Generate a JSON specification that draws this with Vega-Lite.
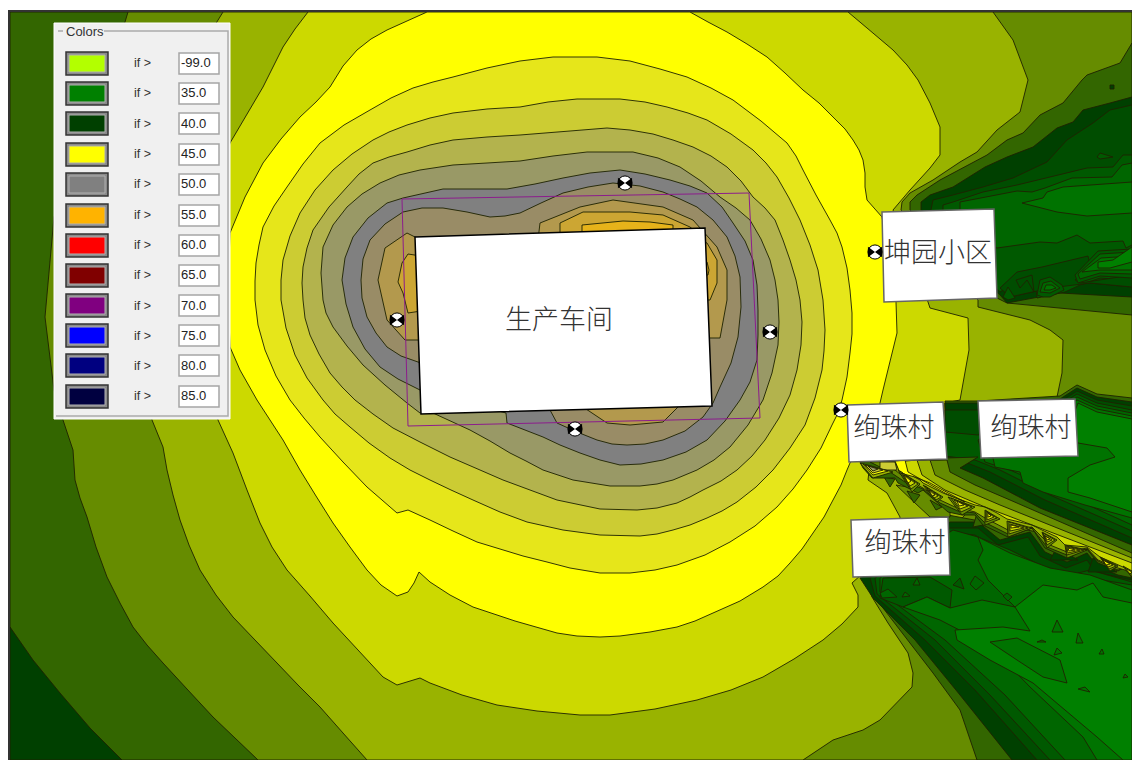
{"$schema":"https://vega.github.io/schema/vega-lite/v6.json","width":1132,"height":760,"padding":0,"autosize":{"type":"fit","contains":"padding"},"background":"#ffffff","config":{"view":{"stroke":null}},"projection":{"type":"identity","scale":1,"translate":[0,0]},
"datasets":{
"map":[
{"type":"Feature","properties":{"k":"41"},"geometry":{"type":"Polygon","coordinates":[[[10,12],[1132,12],[1132,760],[10,760],[10,12]]]}},
{"type":"Feature","properties":{"k":"40"},"geometry":{"type":"Polygon","coordinates":[[[10,627],[33,660],[60,693],[90,728],[122,760],[10,760],[10,627]]]}},
{"type":"Feature","properties":{"k":"42"},"geometry":{"type":"Polygon","coordinates":[[[128,12],[1132,12],[1132,760],[258,760],[235,738],[213,717],[187,689],[163,663],[147,645],[133,627],[120,603],[107,577],[96,547],[87,517],[80,498],[75,480],[73,450],[63,420],[54,390],[45,317],[54,217],[125,22],[128,12]]]}},
{"type":"Feature","properties":{"k":"43"},"geometry":{"type":"Polygon","coordinates":[[[223,12],[993,12],[1013,40],[1028,80],[1020,112],[997,130],[977,152],[960,162],[933,180],[910,193],[902,202],[901,210],[978,300],[978,307],[1030,320],[1050,330],[1063,340],[1062,373],[1057,397],[1040,440],[960,520],[866,578],[872,597],[888,623],[908,653],[913,673],[912,687],[880,720],[863,730],[833,740],[803,760],[367,760],[343,733],[320,707],[298,685],[277,663],[255,640],[233,617],[216,595],[200,570],[189,545],[180,520],[173,495],[167,470],[163,447],[152,420],[140,320],[215,25],[223,12]]]}},
{"type":"Feature","properties":{"k":"44"},"geometry":{"type":"Polygon","coordinates":[[[308,12],[848,12],[867,28],[893,50],[907,65],[918,80],[930,103],[940,127],[940,155],[930,168],[910,190],[893,210],[928,302],[930,308],[968,318],[969,350],[960,400],[945,403],[945,460],[870,462],[868,480],[887,493],[900,517],[900,540],[852,583],[858,595],[858,607],[842,624],[823,640],[794,659],[763,677],[731,690],[697,700],[655,709],[610,715],[580,715],[537,711],[497,705],[462,695],[430,683],[420,678],[397,685],[383,677],[358,650],[333,623],[310,596],[287,570],[272,547],[260,523],[247,490],[233,453],[218,420],[190,280],[230,143],[263,87],[273,67],[283,47],[295,29],[308,12]]]}},
{"type":"Feature","properties":{"k":"41"},"geometry":{"type":"Polygon","coordinates":[[[910,210],[910,202],[917,195],[940,180],[987,155],[1007,140],[1023,133],[1040,115],[1063,103],[1082,80],[1087,75],[1120,63],[1132,43],[1132,315],[1007,303],[997,298],[950,250],[910,210]]]}},
{"type":"Feature","properties":{"k":"40"},"geometry":{"type":"Polygon","coordinates":[[[921,210],[921,202],[930,195],[953,187],[985,167],[1007,157],[1033,147],[1057,128],[1073,122],[1083,110],[1110,103],[1132,97],[1132,297],[1060,293],[1007,303],[1000,295],[950,250],[921,210]]]}},
{"type":"Feature","properties":{"k":"39"},"geometry":{"type":"Polygon","coordinates":[[[931,210],[933,200],[953,195],[983,187],[1013,178],[1047,162],[1067,140],[1093,123],[1110,110],[1132,105],[1132,287],[1090,283],[1050,288],[1010,297],[960,250],[931,210]]]}},
{"type":"Feature","properties":{"k":"38"},"geometry":{"type":"Polygon","coordinates":[[[943,210],[943,205],[953,202],[983,192],[1017,185],[1050,177],[1087,168],[1113,167],[1123,155],[1132,155],[1132,280],[1100,278],[1080,285],[1065,292],[1037,298],[1035,280],[1020,278],[1000,292],[960,250],[943,210]]]}},
{"type":"Feature","properties":{"k":"37"},"geometry":{"type":"Polygon","coordinates":[[[960,210],[960,202],[1017,191],[1032,192],[1045,188],[1072,178],[1112,177],[1122,165],[1132,163],[1132,245],[1126,248],[1123,241],[1090,243],[1077,235],[1057,243],[1040,242],[997,248],[975,240],[960,210]]]}},
{"type":"Feature","properties":{"k":"36"},"geometry":{"type":"Polygon","coordinates":[[[1132,182],[1063,187],[1047,192],[1043,198],[1022,203],[1057,212],[1087,216],[1132,213],[1132,182]]]}},
{"type":"Feature","properties":{"k":"38"},"geometry":{"type":"Polygon","coordinates":[[[1097,157],[1100,153],[1113,157],[1100,159],[1097,157]]]}},
{"type":"Feature","properties":{"k":"40"},"geometry":{"type":"Polygon","coordinates":[[[1110,85],[1114,85],[1114,89],[1110,89],[1110,85]]]}},
{"type":"Feature","properties":{"k":"39"},"geometry":{"type":"Polygon","coordinates":[[[1000,288],[1017,272],[1042,267],[1088,256],[1090,265],[1075,280],[1080,283],[1132,275],[1132,287],[1090,283],[1050,288],[1010,297],[1000,288]]]}},
{"type":"Feature","properties":{"k":"38"},"geometry":{"type":"Polygon","coordinates":[[[1075,275],[1098,251],[1132,249],[1132,278],[1100,276],[1078,283],[1075,275]]]}},
{"type":"Feature","properties":{"k":"37"},"geometry":{"type":"Polygon","coordinates":[[[1078,274],[1100,254],[1132,252],[1132,274],[1100,273],[1080,279],[1078,274]]]}},
{"type":"Feature","properties":{"k":"36"},"geometry":{"type":"Polygon","coordinates":[[[1082,272],[1101,258],[1132,256],[1132,270],[1100,270],[1082,272]]]}},
{"type":"Feature","properties":{"k":"35"},"geometry":{"type":"Polygon","coordinates":[[[1098,262],[1113,260],[1132,247],[1132,262],[1110,268],[1098,268],[1098,262]]]}},
{"type":"Feature","properties":{"k":"38"},"geometry":{"type":"Polygon","coordinates":[[[1037,295],[1040,280],[1050,277],[1062,285],[1064,290],[1050,297],[1043,297],[1037,295]]]}},
{"type":"Feature","properties":{"k":"37"},"geometry":{"type":"Polygon","coordinates":[[[1040,292],[1043,283],[1051,281],[1060,288],[1050,293],[1040,292]]]}},
{"type":"Feature","properties":{"k":"36"},"geometry":{"type":"Polygon","coordinates":[[[1044,290],[1046,285],[1052,285],[1056,288],[1050,290],[1044,290]]]}},
{"type":"Feature","properties":{"k":"38"},"geometry":{"type":"Polygon","coordinates":[[[1003,297],[1008,287],[1015,298],[1008,300],[1003,297]]]}},
{"type":"Feature","properties":{"k":"39"},"geometry":{"type":"Polygon","coordinates":[[[1016,280],[1032,275],[1034,292],[1027,280],[1020,288],[1016,280]]]}},
{"type":"Feature","properties":{"k":"41"},"geometry":{"type":"Polygon","coordinates":[[[945,401],[978,401],[1060,396],[1077,385],[1097,394],[1132,398],[1132,553],[950,472],[947,460],[945,401]]]}},
{"type":"Feature","properties":{"k":"40"},"geometry":{"type":"Polygon","coordinates":[[[945,403],[978,403],[1060,399],[1077,388],[1097,397],[1132,402],[1132,545],[1040,508],[983,478],[960,468],[978,457],[947,458],[945,403]]]}},
{"type":"Feature","properties":{"k":"39"},"geometry":{"type":"Polygon","coordinates":[[[945,410],[978,410],[1060,402],[1077,391],[1097,400],[1132,406],[1132,538],[1045,500],[990,472],[965,462],[945,460],[945,410]]]}},
{"type":"Feature","properties":{"k":"38"},"geometry":{"type":"Polygon","coordinates":[[[945,432],[978,435],[1060,405],[1077,394],[1097,403],[1132,410],[1132,531],[1050,495],[1000,470],[975,460],[945,456],[945,432]]]}},
{"type":"Feature","properties":{"k":"37"},"geometry":{"type":"Polygon","coordinates":[[[978,440],[1060,408],[1077,397],[1097,406],[1132,413],[1132,525],[1055,490],[1010,470],[985,462],[978,440]]]}},
{"type":"Feature","properties":{"k":"36"},"geometry":{"type":"Polygon","coordinates":[[[985,440],[1060,411],[1077,400],[1097,409],[1132,416],[1132,518],[1085,505],[1043,492],[1023,483],[1020,472],[995,467],[993,458],[985,440]]]}},
{"type":"Feature","properties":{"k":"35"},"geometry":{"type":"Polygon","coordinates":[[[1070,425],[1078,403],[1097,412],[1132,419],[1132,512],[1090,498],[1068,492],[1068,478],[1090,465],[1115,457],[1107,448],[1078,443],[1070,425]]]}},
{"type":"Feature","properties":{"k":"41"},"geometry":{"type":"Polygon","coordinates":[[[948,515],[1132,550],[1132,760],[977,760],[960,710],[933,673],[883,608],[872,590],[866,578],[895,570],[930,540],[948,515]]]}},
{"type":"Feature","properties":{"k":"40"},"geometry":{"type":"Polygon","coordinates":[[[950,522],[978,522],[1000,540],[1030,532],[1045,552],[1067,562],[1087,553],[1098,567],[1118,575],[1132,578],[1132,760],[1012,760],[960,695],[915,640],[873,598],[860,578],[950,522]]]}},
{"type":"Feature","properties":{"k":"39"},"geometry":{"type":"Polygon","coordinates":[[[950,528],[978,528],[998,545],[1028,537],[1040,556],[1066,568],[1087,560],[1095,572],[1132,580],[1132,760],[1037,760],[975,690],[925,640],[875,596],[870,578],[950,528]]]}},
{"type":"Feature","properties":{"k":"38"},"geometry":{"type":"Polygon","coordinates":[[[952,533],[975,535],[1000,552],[1040,565],[1070,575],[1090,570],[1132,582],[1132,760],[1050,760],[990,695],[935,640],[877,594],[875,578],[952,533]]]}},
{"type":"Feature","properties":{"k":"37"},"geometry":{"type":"Polygon","coordinates":[[[953,530],[978,537],[1010,550],[1050,570],[1090,578],[1132,585],[1132,760],[1065,760],[1005,695],[945,640],[880,592],[880,578],[953,530]]]}},
{"type":"Feature","properties":{"k":"38"},"geometry":{"type":"Polygon","coordinates":[[[883,578],[930,577],[952,590],[950,608],[927,597],[903,607],[880,598],[883,578]]]}},
{"type":"Feature","properties":{"k":"36"},"geometry":{"type":"Polygon","coordinates":[[[978,537],[1010,553],[1050,568],[1090,575],[1132,590],[1132,760],[1097,760],[1083,737],[1030,687],[997,653],[973,637],[940,620],[903,607],[927,597],[950,608],[982,600],[1015,607],[988,580],[978,560],[983,550],[978,537]]]}},
{"type":"Feature","properties":{"k":"35"},"geometry":{"type":"Polygon","coordinates":[[[1015,607],[1043,585],[1077,590],[1093,583],[1103,597],[1132,603],[1132,760],[1123,760],[1097,737],[1033,683],[990,660],[957,640],[955,630],[1003,627],[1030,631],[1015,607]]]}},
{"type":"Feature","properties":{"k":"36"},"geometry":{"type":"Polygon","coordinates":[[[990,642],[1017,638],[1060,660],[1067,683],[1043,677],[1017,660],[990,642]]]}},
{"type":"Feature","properties":{"k":"36"},"geometry":{"type":"Polygon","coordinates":[[[1057,620],[1063,632],[1052,632],[1057,620]]]}},
{"type":"Feature","properties":{"k":"36"},"geometry":{"type":"Polygon","coordinates":[[[1078,633],[1083,643],[1076,643],[1078,633]]]}},
{"type":"Feature","properties":{"k":"36"},"geometry":{"type":"Polygon","coordinates":[[[1057,648],[1062,653],[1054,655],[1057,648]]]}},
{"type":"Feature","properties":{"k":"36"},"geometry":{"type":"Polygon","coordinates":[[[1102,649],[1104,654],[1099,654],[1102,649]]]}},
{"type":"Feature","properties":{"k":"36"},"geometry":{"type":"Polygon","coordinates":[[[1085,687],[1090,692],[1078,689],[1085,687]]]}},
{"type":"Feature","properties":{"k":"36"},"geometry":{"type":"Polygon","coordinates":[[[1125,674],[1128,677],[1123,678],[1125,674]]]}},
{"type":"Feature","properties":{"k":"36"},"geometry":{"type":"Polygon","coordinates":[[[1042,640],[1046,642],[1037,642],[1042,640]]]}},
{"type":"Feature","properties":{"k":"37"},"geometry":{"type":"Polygon","coordinates":[[[917,578],[920,585],[913,585],[917,578]]]}},
{"type":"Feature","properties":{"k":"38"},"geometry":{"type":"Polygon","coordinates":[[[960,578],[964,589],[953,585],[960,578]]]}},
{"type":"Feature","properties":{"k":"37"},"geometry":{"type":"Polygon","coordinates":[[[975,576],[984,583],[976,590],[970,584],[975,576]]]}},
{"type":"Feature","properties":{"k":"37"},"geometry":{"type":"Polygon","coordinates":[[[1007,593],[1012,597],[1008,601],[1003,596],[1007,593]]]}},
{"type":"Feature","properties":{"k":"37"},"geometry":{"type":"Polygon","coordinates":[[[888,589],[897,597],[882,598],[880,593],[888,589]]]}},
{"type":"Feature","properties":{"k":"37"},"geometry":{"type":"Polygon","coordinates":[[[905,592],[910,596],[902,597],[905,592]]]}},
{"type":"Feature","properties":{"k":"42"},"geometry":{"type":"Polygon","coordinates":[[[896,485],[915,503],[930,517],[950,517],[950,505],[925,490],[896,485]]]}},
{"type":"Feature","properties":{"k":"41"},"geometry":{"type":"Polygon","coordinates":[[[973,527],[977,513],[993,523],[973,527]]]}},
{"type":"Feature","properties":{"k":"40"},"geometry":{"type":"Polygon","coordinates":[[[1050,560],[1057,547],[1078,560],[1050,560]]]}},
{"type":"Feature","properties":{"k":"40"},"geometry":{"type":"Polygon","coordinates":[[[1088,572],[1093,558],[1117,572],[1088,572]]]}},
{"type":"Feature","properties":{"k":"41"},"geometry":{"type":"Polygon","coordinates":[[[884,477],[895,479],[890,487],[884,477]]]}},
{"type":"Feature","properties":{"k":"41"},"geometry":{"type":"Polygon","coordinates":[[[907,491],[920,495],[914,503],[907,491]]]}},
{"type":"Feature","properties":{"k":"41"},"geometry":{"type":"Polygon","coordinates":[[[930,500],[942,507],[936,510],[930,500]]]}},
{"type":"Feature","properties":{"k":"41"},"geometry":{"type":"Polygon","coordinates":[[[947,458],[978,457],[960,468],[983,478],[1040,508],[1132,545],[1132,578],[1125,567],[1118,571],[1098,563],[1087,549],[1067,558],[1045,548],[1032,528],[1008,537],[983,525],[975,515],[962,515],[948,512],[940,505],[923,490],[918,493],[898,483],[895,478],[872,478],[863,468],[860,462],[947,458]]]}},
{"type":"Feature","properties":{"k":"42"},"geometry":{"type":"Polygon","coordinates":[[[947,460],[950,472],[975,485],[1010,500],[1132,553],[1132,576],[1125,568],[1118,570],[1098,561],[1087,549],[1067,555],[1047,547],[1032,528],[1008,534],[984,522],[975,513],[958,511],[940,503],[923,489],[905,482],[890,472],[870,462],[947,460]]]}},
{"type":"Feature","properties":{"k":"43"},"geometry":{"type":"Polygon","coordinates":[[[930,460],[935,475],[965,490],[1000,505],[1132,558],[1132,575],[1125,570],[1118,568],[1098,560],[1087,548],[1067,552],[1050,545],[1032,527],[1008,530],[985,518],[975,512],[955,507],[940,500],[923,488],[905,478],[895,470],[880,462],[930,460]]]}},
{"type":"Feature","properties":{"k":"44"},"geometry":{"type":"Polygon","coordinates":[[[917,460],[922,475],[945,490],[985,507],[1040,528],[1132,563],[1132,572],[1123,567],[1100,557],[1087,547],[1065,545],[1057,537],[1042,530],[1032,525],[1007,519],[997,513],[985,507],[975,505],[948,495],[943,493],[923,483],[920,480],[898,468],[895,462],[917,460]]]}},
{"type":"Feature","properties":{"k":"45"},"geometry":{"type":"Polygon","coordinates":[[[905,460],[908,472],[922,480],[945,493],[965,502],[950,494],[930,483],[915,477],[900,473],[895,461],[905,460]]]}},
{"type":"Feature","properties":{"k":"47"},"geometry":{"type":"Polygon","coordinates":[[[880,462],[895,462],[897,470],[880,470],[880,462]]]}},
{"type":"Feature","properties":{"k":"43"},"geometry":{"type":"Polygon","coordinates":[[[860,463],[893,472],[873,478],[860,463]]]}},
{"type":"Feature","properties":{"k":"45"},"geometry":{"type":"Polygon","coordinates":[[[863,464],[888,471],[873,475],[863,464]]]}},
{"type":"Feature","properties":{"k":"47"},"geometry":{"type":"Polygon","coordinates":[[[865,465],[883,470],[873,473],[865,465]]]}},
{"type":"Feature","properties":{"k":"49"},"geometry":{"type":"Polygon","coordinates":[[[868,466],[878,469],[873,471],[868,466]]]}},
{"type":"Feature","properties":{"k":"42"},"geometry":{"type":"Polygon","coordinates":[[[898,470],[920,484],[912,492],[898,470]]]}},
{"type":"Feature","properties":{"k":"43"},"geometry":{"type":"Polygon","coordinates":[[[900,471],[918,484],[911,489],[900,471]]]}},
{"type":"Feature","properties":{"k":"44"},"geometry":{"type":"Polygon","coordinates":[[[902,473],[915,483],[910,486],[902,473]]]}},
{"type":"Feature","properties":{"k":"45"},"geometry":{"type":"Polygon","coordinates":[[[904,475],[911,481],[908,483],[904,475]]]}},
{"type":"Feature","properties":{"k":"42"},"geometry":{"type":"Polygon","coordinates":[[[923,485],[943,497],[937,502],[923,485]]]}},
{"type":"Feature","properties":{"k":"43"},"geometry":{"type":"Polygon","coordinates":[[[925,486],[941,497],[936,500],[925,486]]]}},
{"type":"Feature","properties":{"k":"44"},"geometry":{"type":"Polygon","coordinates":[[[927,488],[938,496],[934,498],[927,488]]]}},
{"type":"Feature","properties":{"k":"46"},"geometry":{"type":"Polygon","coordinates":[[[929,490],[935,495],[932,496],[929,490]]]}},
{"type":"Feature","properties":{"k":"42"},"geometry":{"type":"Polygon","coordinates":[[[948,497],[975,507],[962,515],[948,497]]]}},
{"type":"Feature","properties":{"k":"43"},"geometry":{"type":"Polygon","coordinates":[[[951,498],[972,507],[961,512],[951,498]]]}},
{"type":"Feature","properties":{"k":"44"},"geometry":{"type":"Polygon","coordinates":[[[954,500],[968,506],[960,509],[954,500]]]}},
{"type":"Feature","properties":{"k":"46"},"geometry":{"type":"Polygon","coordinates":[[[957,501],[964,505],[959,506],[957,501]]]}},
{"type":"Feature","properties":{"k":"42"},"geometry":{"type":"Polygon","coordinates":[[[985,510],[1000,519],[985,525],[985,510]]]}},
{"type":"Feature","properties":{"k":"43"},"geometry":{"type":"Polygon","coordinates":[[[986,511],[997,518],[986,522],[986,511]]]}},
{"type":"Feature","properties":{"k":"44"},"geometry":{"type":"Polygon","coordinates":[[[987,512],[994,517],[987,520],[987,512]]]}},
{"type":"Feature","properties":{"k":"45"},"geometry":{"type":"Polygon","coordinates":[[[988,513],[991,516],[988,517],[988,513]]]}},
{"type":"Feature","properties":{"k":"42"},"geometry":{"type":"Polygon","coordinates":[[[1007,521],[1032,528],[1008,537],[1007,521]]]}},
{"type":"Feature","properties":{"k":"43"},"geometry":{"type":"Polygon","coordinates":[[[1009,522],[1028,528],[1009,534],[1009,522]]]}},
{"type":"Feature","properties":{"k":"44"},"geometry":{"type":"Polygon","coordinates":[[[1010,524],[1024,528],[1010,531],[1010,524]]]}},
{"type":"Feature","properties":{"k":"45"},"geometry":{"type":"Polygon","coordinates":[[[1011,525],[1019,527],[1011,528],[1011,525]]]}},
{"type":"Feature","properties":{"k":"42"},"geometry":{"type":"Polygon","coordinates":[[[1042,532],[1057,540],[1047,548],[1042,532]]]}},
{"type":"Feature","properties":{"k":"43"},"geometry":{"type":"Polygon","coordinates":[[[1043,533],[1055,540],[1047,545],[1043,533]]]}},
{"type":"Feature","properties":{"k":"44"},"geometry":{"type":"Polygon","coordinates":[[[1044,535],[1052,540],[1047,542],[1044,535]]]}},
{"type":"Feature","properties":{"k":"45"},"geometry":{"type":"Polygon","coordinates":[[[1045,536],[1050,539],[1047,540],[1045,536]]]}},
{"type":"Feature","properties":{"k":"42"},"geometry":{"type":"Polygon","coordinates":[[[1065,545],[1087,550],[1067,558],[1065,545]]]}},
{"type":"Feature","properties":{"k":"43"},"geometry":{"type":"Polygon","coordinates":[[[1066,546],[1084,550],[1067,555],[1066,546]]]}},
{"type":"Feature","properties":{"k":"44"},"geometry":{"type":"Polygon","coordinates":[[[1067,547],[1080,550],[1068,553],[1067,547]]]}},
{"type":"Feature","properties":{"k":"45"},"geometry":{"type":"Polygon","coordinates":[[[1068,548],[1075,550],[1069,551],[1068,548]]]}},
{"type":"Feature","properties":{"k":"42"},"geometry":{"type":"Polygon","coordinates":[[[1100,557],[1118,566],[1110,571],[1100,557]]]}},
{"type":"Feature","properties":{"k":"43"},"geometry":{"type":"Polygon","coordinates":[[[1101,558],[1116,566],[1109,569],[1101,558]]]}},
{"type":"Feature","properties":{"k":"44"},"geometry":{"type":"Polygon","coordinates":[[[1102,559],[1113,565],[1108,567],[1102,559]]]}},
{"type":"Feature","properties":{"k":"45"},"geometry":{"type":"Polygon","coordinates":[[[1103,560],[1110,564],[1106,565],[1103,560]]]}},
{"type":"Feature","properties":{"k":"42"},"geometry":{"type":"Polygon","coordinates":[[[1123,566],[1132,571],[1132,577],[1123,566]]]}},
{"type":"Feature","properties":{"k":"44"},"geometry":{"type":"Polygon","coordinates":[[[1125,568],[1132,572],[1130,574],[1125,568]]]}},
{"type":"Feature","properties":{"k":"45"},"geometry":{"type":"Polygon","coordinates":[[[427,12],[690,12],[708,22],[727,32],[747,44],[767,57],[785,73],[803,90],[819,103],[833,117],[845,129],[853,140],[859,150],[863,160],[865,173],[865,187],[867,200],[882,217],[896,302],[897,333],[883,390],[880,403],[870,440],[850,463],[847,470],[841,485],[833,500],[824,517],[813,533],[802,549],[790,563],[778,576],[763,587],[740,601],[713,613],[695,621],[677,627],[650,632],[620,636],[600,637],[577,636],[557,633],[515,621],[473,607],[450,595],[430,582],[419,572],[414,583],[408,592],[397,596],[381,585],[367,570],[350,547],[333,523],[316,496],[300,470],[283,440],[270,420],[257,400],[240,370],[230,347],[228,290],[230,233],[245,197],[263,163],[281,139],[300,117],[316,102],[330,87],[343,66],[357,50],[371,39],[387,30],[407,21],[427,12]]]}},
{"type":"Feature","properties":{"k":"46"},"geometry":{"type":"Polygon","coordinates":[[[520,61],[553,57],[597,57],[630,61],[660,69],[687,77],[711,88],[733,100],[761,121],[787,143],[796,156],[803,170],[816,195],[830,220],[837,233],[842,247],[847,268],[850,290],[852,313],[852,334],[850,353],[847,377],[842,400],[838,413],[832,425],[821,448],[807,470],[793,489],[777,507],[755,526],[730,542],[705,555],[677,565],[655,570],[630,573],[600,573],[570,568],[547,562],[523,556],[500,549],[477,542],[453,531],[430,520],[408,510],[397,513],[382,500],[367,487],[343,462],[320,437],[304,418],[290,400],[276,376],[265,350],[258,325],[255,300],[255,281],[256,263],[259,245],[263,227],[274,206],[287,187],[303,164],[320,143],[344,125],[370,110],[391,98],[413,88],[433,82],[453,77],[487,68],[520,61]]]}},
{"type":"Feature","properties":{"k":"47"},"geometry":{"type":"Polygon","coordinates":[[[520,107],[548,102],[577,99],[620,99],[645,102],[667,107],[688,113],[707,120],[731,134],[753,150],[766,163],[777,177],[789,198],[800,220],[810,245],[818,270],[823,300],[825,330],[824,351],[822,370],[815,398],[805,425],[790,448],[773,470],[756,487],[737,502],[722,511],[707,518],[690,525],[673,530],[657,534],[640,536],[600,535],[563,530],[527,522],[500,512],[473,500],[451,490],[430,480],[410,470],[390,458],[369,443],[350,427],[335,414],[323,400],[307,378],[295,355],[286,328],[281,300],[281,280],[283,260],[290,236],[300,213],[315,190],[333,170],[352,154],[373,140],[389,132],[407,125],[430,118],[453,113],[487,109],[520,107]]]}},
{"type":"Feature","properties":{"k":"48"},"geometry":{"type":"Polygon","coordinates":[[[520,135],[570,131],[607,128],[630,130],[653,134],[673,140],[693,147],[711,156],[727,167],[741,181],[753,197],[765,208],[775,220],[783,240],[790,260],[796,280],[800,300],[802,322],[801,345],[797,370],[790,395],[779,418],[765,440],[752,456],[737,470],[721,481],[703,490],[690,497],[677,503],[657,508],[637,510],[600,509],[557,500],[530,490],[503,480],[480,470],[450,457],[420,442],[393,428],[373,414],[355,400],[342,387],[330,373],[319,354],[310,335],[305,318],[303,300],[302,283],[303,267],[307,248],[313,230],[329,207],[347,187],[359,174],[373,163],[389,157],[407,152],[430,145],[453,140],[487,137],[520,135]]]}},
{"type":"Feature","properties":{"k":"49"},"geometry":{"type":"Polygon","coordinates":[[[520,161],[553,156],[587,152],[633,152],[658,158],[680,167],[701,181],[720,197],[736,208],[750,220],[761,239],[770,260],[775,280],[778,300],[779,322],[778,345],[772,373],[763,400],[748,425],[730,447],[714,460],[697,470],[673,480],[657,484],[640,486],[610,486],[573,480],[543,470],[526,461],[510,453],[490,441],[470,430],[433,413],[420,413],[407,403],[385,385],[363,365],[347,346],[333,327],[326,313],[323,300],[321,273],[323,247],[333,225],[347,207],[362,194],[380,183],[399,175],[420,170],[453,165],[487,163],[520,161]]]}},
{"type":"Feature","properties":{"k":"50"},"geometry":{"type":"Polygon","coordinates":[[[403,198],[443,189],[507,189],[535,184],[563,178],[590,173],[620,170],[645,174],[670,180],[690,186],[707,193],[722,207],[733,223],[745,241],[753,260],[757,285],[758,310],[758,335],[757,360],[750,382],[740,400],[725,421],[707,440],[686,452],[663,460],[641,464],[620,465],[600,460],[580,453],[560,445],[543,437],[507,423],[506,413],[420,390],[398,379],[380,367],[365,349],[353,327],[346,304],[342,280],[345,258],[353,237],[368,218],[387,203],[403,198]]]}},
{"type":"Feature","properties":{"k":"51"},"geometry":{"type":"Polygon","coordinates":[[[418,362],[401,356],[387,347],[376,333],[367,317],[362,298],[361,280],[363,259],[370,240],[385,224],[403,212],[422,208],[443,208],[467,212],[490,217],[505,216],[520,213],[541,203],[563,193],[588,187],[613,183],[640,186],[663,192],[680,199],[697,207],[713,220],[727,237],[735,256],[740,277],[741,307],[738,337],[731,363],[720,387],[713,403],[703,417],[685,431],[663,440],[645,444],[627,445],[612,444],[597,440],[577,432],[557,423],[550,410],[418,362]]]}},
{"type":"Feature","properties":{"k":"52"},"geometry":{"type":"Polygon","coordinates":[[[421,240],[407,233],[385,248],[378,280],[387,320],[405,340],[421,340],[421,240]]]}},
{"type":"Feature","properties":{"k":"52"},"geometry":{"type":"Polygon","coordinates":[[[538,240],[540,223],[580,207],[613,200],[663,207],[693,220],[717,247],[727,270],[727,300],[720,338],[700,338],[700,240],[538,240]]]}},
{"type":"Feature","properties":{"k":"52"},"geometry":{"type":"Polygon","coordinates":[[[580,405],[607,423],[630,425],[663,422],[680,405],[580,405]]]}},
{"type":"Feature","properties":{"k":"53"},"geometry":{"type":"Polygon","coordinates":[[[421,256],[408,254],[402,263],[398,282],[403,293],[408,313],[421,311],[421,256]]]}},
{"type":"Feature","properties":{"k":"53"},"geometry":{"type":"Polygon","coordinates":[[[560,240],[560,223],[583,212],[630,212],[663,215],[690,227],[700,235],[700,240],[560,240]]]}},
{"type":"Feature","properties":{"k":"53"},"geometry":{"type":"Polygon","coordinates":[[[700,240],[707,243],[717,260],[717,283],[710,300],[700,300],[700,240]]]}},
{"type":"Feature","properties":{"k":"54"},"geometry":{"type":"Polygon","coordinates":[[[582,240],[582,225],[623,221],[650,222],[673,225],[673,240],[582,240]]]}},
{"type":"Feature","properties":{"k":"54"},"geometry":{"type":"Polygon","coordinates":[[[700,262],[707,262],[709,270],[708,275],[700,275],[700,262]]]}}
],
"site":[{"type":"Feature","properties":{"k":"site"},"geometry":{"type":"Polygon","coordinates":[[[402,199],[749,193],[760,418],[408,426],[402,199]]]}}],
"building":[{"type":"Feature","properties":{"k":"building"},"geometry":{"type":"Polygon","coordinates":[[[415,237],[705,228],[712,406],[421,414],[415,237]]]}}],
"signs":[
{"type":"Feature","properties":{"k":"a"},"geometry":{"type":"Polygon","coordinates":[[[882,212],[994,209],[997,298],[884,302],[882,212]]]}},
{"type":"Feature","properties":{"k":"b"},"geometry":{"type":"Polygon","coordinates":[[[847,405],[943,402],[947,459],[849,462],[847,405]]]}},
{"type":"Feature","properties":{"k":"c"},"geometry":{"type":"Polygon","coordinates":[[[978,401],[1075,399],[1078,456],[981,458],[978,401]]]}},
{"type":"Feature","properties":{"k":"d"},"geometry":{"type":"Polygon","coordinates":[[[851,520],[948,517],[950,575],[853,577],[851,520]]]}}
],
"frame":[{"type":"Feature","properties":{"k":"frame"},"geometry":{"type":"LineString","coordinates":[[9,760],[9,11],[1132,11]]}}],
"panel":[{"type":"Feature","properties":{"k":"panel"},"geometry":{"type":"Polygon","coordinates":[[[54,23],[230,23],[230,419],[54,419],[54,23]]]}}],
"groupbox":[
{"type":"Feature","properties":{"k":"g1"},"geometry":{"type":"LineString","coordinates":[[58,31],[63,31]]}},
{"type":"Feature","properties":{"k":"g2"},"geometry":{"type":"LineString","coordinates":[[104,31],[228,31],[228,416],[56,416]]}}
],
"btns":[
{"type":"Feature","properties":{"k":"b"},"geometry":{"type":"Polygon","coordinates":[[[66,52],[108,52],[108,75],[66,75],[66,52]]]}},
{"type":"Feature","properties":{"k":"b"},"geometry":{"type":"Polygon","coordinates":[[[66,82],[108,82],[108,105],[66,105],[66,82]]]}},
{"type":"Feature","properties":{"k":"b"},"geometry":{"type":"Polygon","coordinates":[[[66,112],[108,112],[108,135],[66,135],[66,112]]]}},
{"type":"Feature","properties":{"k":"b"},"geometry":{"type":"Polygon","coordinates":[[[66,143],[108,143],[108,166],[66,166],[66,143]]]}},
{"type":"Feature","properties":{"k":"b"},"geometry":{"type":"Polygon","coordinates":[[[66,173],[108,173],[108,196],[66,196],[66,173]]]}},
{"type":"Feature","properties":{"k":"b"},"geometry":{"type":"Polygon","coordinates":[[[66,204],[108,204],[108,227],[66,227],[66,204]]]}},
{"type":"Feature","properties":{"k":"b"},"geometry":{"type":"Polygon","coordinates":[[[66,234],[108,234],[108,257],[66,257],[66,234]]]}},
{"type":"Feature","properties":{"k":"b"},"geometry":{"type":"Polygon","coordinates":[[[66,264],[108,264],[108,287],[66,287],[66,264]]]}},
{"type":"Feature","properties":{"k":"b"},"geometry":{"type":"Polygon","coordinates":[[[66,294],[108,294],[108,317],[66,317],[66,294]]]}},
{"type":"Feature","properties":{"k":"b"},"geometry":{"type":"Polygon","coordinates":[[[66,324],[108,324],[108,347],[66,347],[66,324]]]}},
{"type":"Feature","properties":{"k":"b"},"geometry":{"type":"Polygon","coordinates":[[[66,354],[108,354],[108,377],[66,377],[66,354]]]}},
{"type":"Feature","properties":{"k":"b"},"geometry":{"type":"Polygon","coordinates":[[[66,385],[108,385],[108,408],[66,408],[66,385]]]}}
],
"swatches":[
{"type":"Feature","properties":{"k":"s-99"},"geometry":{"type":"Polygon","coordinates":[[[69,55],[105,55],[105,72],[69,72],[69,55]]]}},
{"type":"Feature","properties":{"k":"s35"},"geometry":{"type":"Polygon","coordinates":[[[69,85],[105,85],[105,102],[69,102],[69,85]]]}},
{"type":"Feature","properties":{"k":"s40"},"geometry":{"type":"Polygon","coordinates":[[[69,115],[105,115],[105,132],[69,132],[69,115]]]}},
{"type":"Feature","properties":{"k":"s45"},"geometry":{"type":"Polygon","coordinates":[[[69,146],[105,146],[105,163],[69,163],[69,146]]]}},
{"type":"Feature","properties":{"k":"s50"},"geometry":{"type":"Polygon","coordinates":[[[69,176],[105,176],[105,193],[69,193],[69,176]]]}},
{"type":"Feature","properties":{"k":"s55"},"geometry":{"type":"Polygon","coordinates":[[[69,207],[105,207],[105,224],[69,224],[69,207]]]}},
{"type":"Feature","properties":{"k":"s60"},"geometry":{"type":"Polygon","coordinates":[[[69,237],[105,237],[105,254],[69,254],[69,237]]]}},
{"type":"Feature","properties":{"k":"s65"},"geometry":{"type":"Polygon","coordinates":[[[69,267],[105,267],[105,284],[69,284],[69,267]]]}},
{"type":"Feature","properties":{"k":"s70"},"geometry":{"type":"Polygon","coordinates":[[[69,297],[105,297],[105,314],[69,314],[69,297]]]}},
{"type":"Feature","properties":{"k":"s75"},"geometry":{"type":"Polygon","coordinates":[[[69,327],[105,327],[105,344],[69,344],[69,327]]]}},
{"type":"Feature","properties":{"k":"s80"},"geometry":{"type":"Polygon","coordinates":[[[69,357],[105,357],[105,374],[69,374],[69,357]]]}},
{"type":"Feature","properties":{"k":"s85"},"geometry":{"type":"Polygon","coordinates":[[[69,388],[105,388],[105,405],[69,405],[69,388]]]}}
],
"boxes":[
{"type":"Feature","properties":{"k":"v"},"geometry":{"type":"Polygon","coordinates":[[[179,53],[219,53],[219,74],[179,74],[179,53]]]}},
{"type":"Feature","properties":{"k":"v"},"geometry":{"type":"Polygon","coordinates":[[[179,83],[219,83],[219,104],[179,104],[179,83]]]}},
{"type":"Feature","properties":{"k":"v"},"geometry":{"type":"Polygon","coordinates":[[[179,113],[219,113],[219,134],[179,134],[179,113]]]}},
{"type":"Feature","properties":{"k":"v"},"geometry":{"type":"Polygon","coordinates":[[[179,144],[219,144],[219,165],[179,165],[179,144]]]}},
{"type":"Feature","properties":{"k":"v"},"geometry":{"type":"Polygon","coordinates":[[[179,174],[219,174],[219,195],[179,195],[179,174]]]}},
{"type":"Feature","properties":{"k":"v"},"geometry":{"type":"Polygon","coordinates":[[[179,205],[219,205],[219,226],[179,226],[179,205]]]}},
{"type":"Feature","properties":{"k":"v"},"geometry":{"type":"Polygon","coordinates":[[[179,235],[219,235],[219,256],[179,256],[179,235]]]}},
{"type":"Feature","properties":{"k":"v"},"geometry":{"type":"Polygon","coordinates":[[[179,265],[219,265],[219,286],[179,286],[179,265]]]}},
{"type":"Feature","properties":{"k":"v"},"geometry":{"type":"Polygon","coordinates":[[[179,295],[219,295],[219,316],[179,316],[179,295]]]}},
{"type":"Feature","properties":{"k":"v"},"geometry":{"type":"Polygon","coordinates":[[[179,325],[219,325],[219,346],[179,346],[179,325]]]}},
{"type":"Feature","properties":{"k":"v"},"geometry":{"type":"Polygon","coordinates":[[[179,355],[219,355],[219,376],[179,376],[179,355]]]}},
{"type":"Feature","properties":{"k":"v"},"geometry":{"type":"Polygon","coordinates":[[[179,386],[219,386],[219,407],[179,407],[179,386]]]}}
],
"rows":[{"row":63,"value":"-99.0"},{"row":93,"value":"35.0"},{"row":124,"value":"40.0"},{"row":154,"value":"45.0"},{"row":184,"value":"50.0"},{"row":215,"value":"55.0"},{"row":245,"value":"60.0"},{"row":275,"value":"65.0"},{"row":306,"value":"70.0"},{"row":336,"value":"75.0"},{"row":366,"value":"80.0"},{"row":396,"value":"85.0"}],
"receivers":[{"lon":625,"lat":183},{"lon":397,"lat":320},{"lon":770,"lat":332},{"lon":575,"lat":429},{"lon":841,"lat":410},{"lon":875,"lat":252}],
"names":[{"lon":559,"lat":321,"name":"生产车间"},{"lon":938,"lat":254,"name":"坤园小区"},{"lon":894,"lat":429,"name":"绚珠村"},{"lon":1031,"lat":429,"name":"绚珠村"},{"lon":905,"lat":544,"name":"绚珠村"}]
},
"layer":[
{"data":{"name":"map"},"mark":{"type":"geoshape","stroke":"#1e2200","strokeWidth":1,"strokeOpacity":0.9},"encoding":{"fill":{"field":"properties.k","type":"nominal","legend":null,"scale":{"domain":["35","36","37","38","39","40","41","42","43","44","45","46","47","48","49","50","51","52","53","54","s-99","s35","s40","s45","s50","s55","s60","s65","s70","s75","s80","s85"],"range":["#008000","#007300","#006600","#005900","#004d00","#004000","#336600","#668c00","#99b300","#ccd900","#ffff00","#e6e61a","#cccc33","#b3b34d","#999966","#808080","#998c66","#b3994d","#cca633","#e6b31a","#b3ff00","#008000","#004000","#ffff00","#808080","#ffb300","#ff0000","#800000","#800080","#0000ff","#000080","#000040"]}}}},
{"data":{"name":"frame"},"mark":{"type":"geoshape","fill":null,"filled":false,"stroke":"#333333","strokeWidth":2},"encoding":{}},
{"data":{"name":"site"},"mark":{"type":"geoshape","fill":null,"filled":false,"stroke":"#8c1c8c","strokeWidth":1},"encoding":{}},
{"data":{"name":"building"},"mark":{"type":"geoshape","fill":"#ffffff","stroke":"#000000","strokeWidth":1.5},"encoding":{}},
{"data":{"name":"signs"},"mark":{"type":"geoshape","fill":"#ffffff","stroke":"#666666","strokeWidth":1.5},"encoding":{}},
{"data":{"name":"receivers"},"mark":{"type":"point","shape":"circle","filled":true,"fill":"#ffffff","stroke":"#000000","strokeWidth":1,"size":200,"opacity":1},"encoding":{"longitude":{"field":"lon","type":"quantitative"},"latitude":{"field":"lat","type":"quantitative"}}},
{"data":{"name":"receivers"},"mark":{"type":"point","shape":"M-1,-0.75L0,0L-1,0.75ZM1,-0.75L0,0L1,0.75Z","filled":true,"fill":"#000000","stroke":null,"size":200,"opacity":1},"encoding":{"longitude":{"field":"lon","type":"quantitative"},"latitude":{"field":"lat","type":"quantitative"}}},
{"data":{"name":"names"},"mark":{"type":"text","font":"Noto Sans CJK SC","fontSize":27,"fontWeight":300,"fill":"#333333","align":"center","baseline":"middle"},"encoding":{"longitude":{"field":"lon","type":"quantitative"},"latitude":{"field":"lat","type":"quantitative"},"text":{"field":"name","type":"nominal"}}},
{"data":{"name":"panel"},"mark":{"type":"geoshape","fill":"#f0f0f0","stroke":"#ffffff","strokeWidth":1},"encoding":{}},
{"data":{"name":"groupbox"},"mark":{"type":"geoshape","filled":false,"fill":null,"stroke":"#aaaaaa","strokeWidth":1.5},"encoding":{}},
{"data":{"name":"btns"},"mark":{"type":"geoshape","fill":"#8a8a8a","stroke":"#333333","strokeWidth":1.5},"encoding":{}},
{"data":{"name":"swatches"},"mark":{"type":"geoshape","stroke":"#b0b0b0","strokeWidth":1},"encoding":{"fill":{"field":"properties.k","type":"nominal","legend":null}}},
{"data":{"name":"boxes"},"mark":{"type":"geoshape","fill":"#ffffff","stroke":"#a5a5a5","strokeWidth":1.5},"encoding":{}},
{"data":{"values":[{"lon":66,"lat":32,"t":"Colors"}]},"mark":{"type":"text","font":"Liberation Sans","fontSize":13,"fill":"#333333","align":"left","baseline":"middle"},"encoding":{"longitude":{"field":"lon","type":"quantitative"},"latitude":{"field":"lat","type":"quantitative"},"text":{"field":"t","type":"nominal"}}},
{"data":{"name":"rows"},"mark":{"type":"text","font":"Liberation Sans","fontSize":12.5,"fill":"#333333","align":"left","baseline":"middle"},"encoding":{"longitude":{"datum":134},"latitude":{"field":"row","type":"quantitative"},"text":{"value":"if >"}}},
{"data":{"name":"rows"},"mark":{"type":"text","font":"Liberation Sans","fontSize":13,"fill":"#222222","align":"left","baseline":"middle"},"encoding":{"longitude":{"datum":181},"latitude":{"field":"row","type":"quantitative"},"text":{"field":"value","type":"nominal"}}}
]}
